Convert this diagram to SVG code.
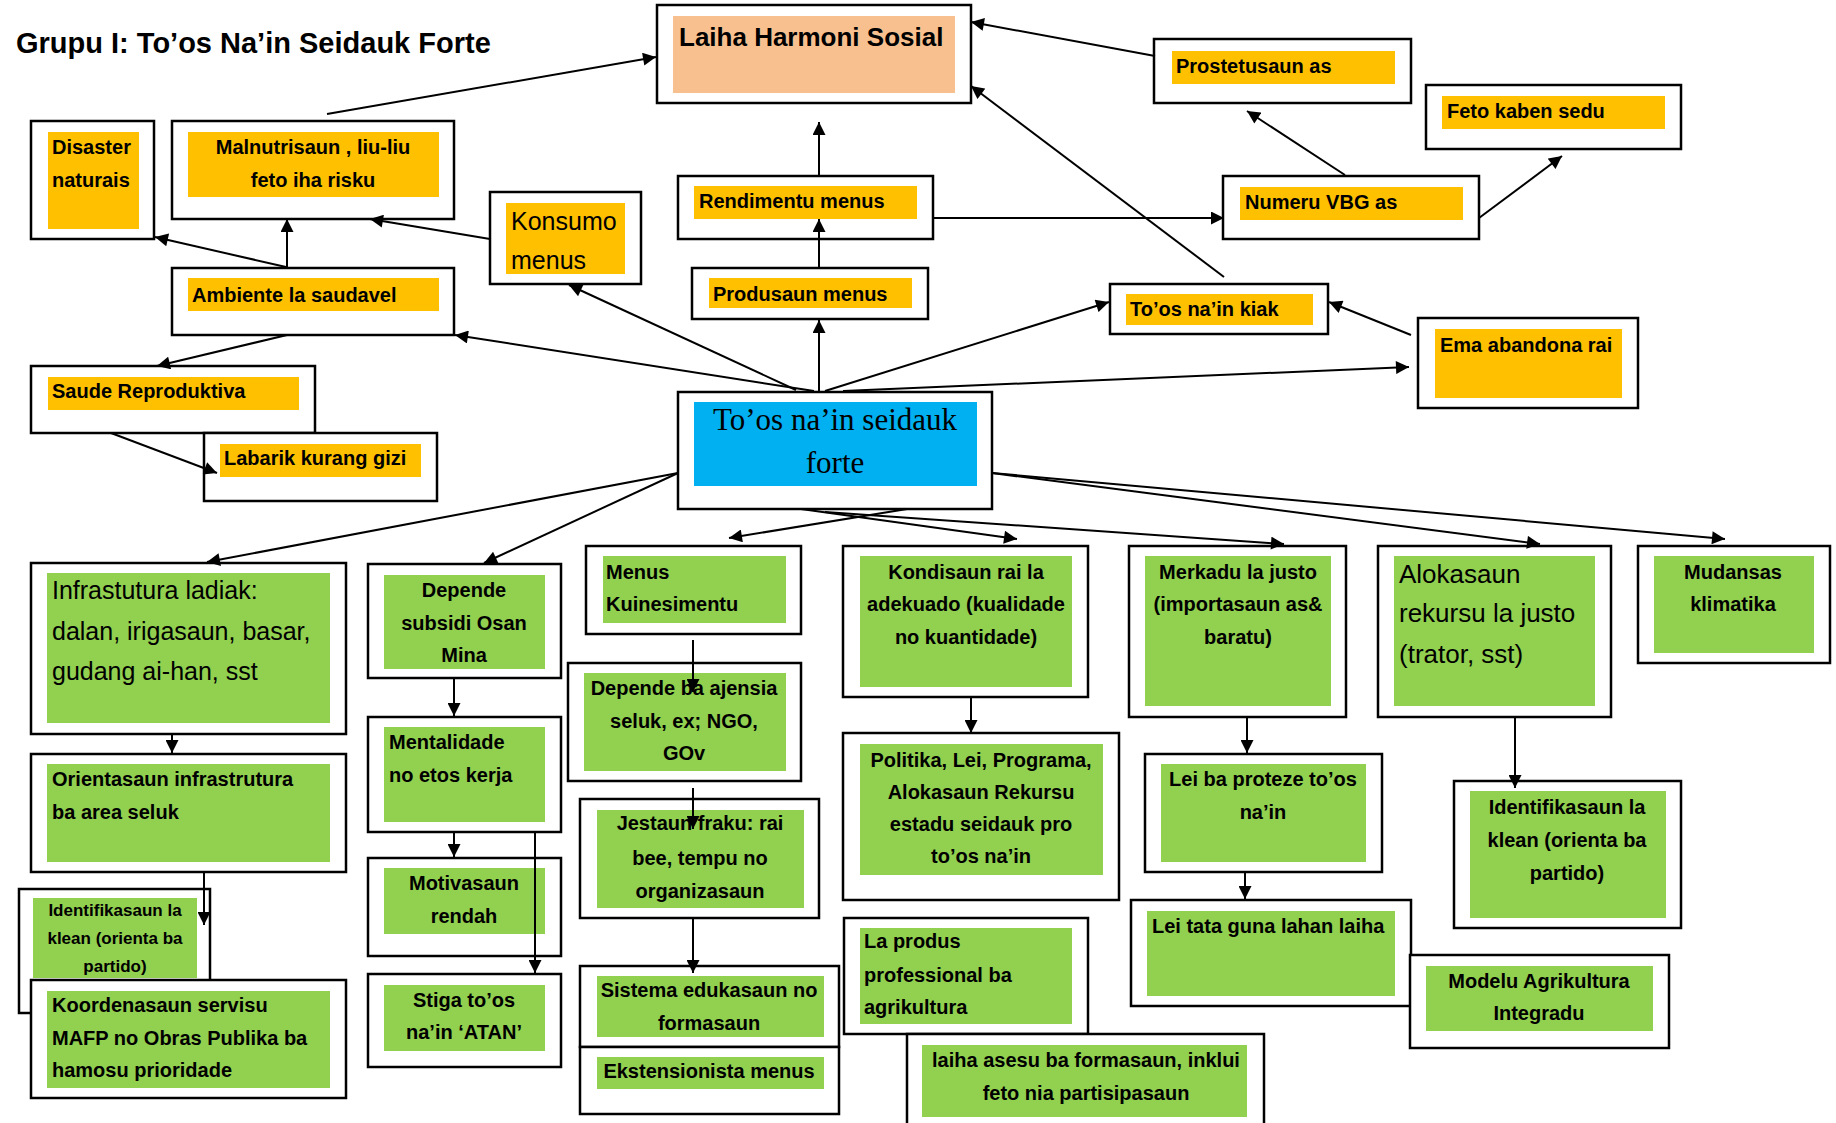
<svg xmlns="http://www.w3.org/2000/svg" width="1836" height="1123" viewBox="0 0 1836 1123">
<defs>
<style>
.o{fill:#fff;stroke:#000;stroke-width:2.5}
.y{fill:#FFC000}
.g{fill:#92D050}
.t{font-family:"Liberation Sans",Arial,sans-serif;font-weight:bold;font-size:20px;fill:#000}
.r{font-family:"Liberation Sans",Arial,sans-serif;font-size:25px;fill:#000}
.m{text-anchor:middle}
.c line{stroke:#000;stroke-width:2;marker-end:url(#ah)}
</style>
<marker id="ah" viewBox="0 0 10 10" refX="10" refY="5" markerWidth="14" markerHeight="13" markerUnits="userSpaceOnUse" orient="auto"><path d="M0,0 L10,5 L0,10 z" fill="#000"/></marker>
</defs>
<rect width="1836" height="1123" fill="#fff"/>
<text x="16" y="53" class="t" style="font-size:29px">Grupu I: To’os Na’in Seidauk Forte</text>

<g id="laiha-harmoni"><rect class="o" x="657" y="5" width="314" height="98"/><rect x="673" y="16" width="282" height="77" fill="#F8C08F"/><text class="t" x="679" y="46" style="font-size:26px">Laiha Harmoni Sosial</text></g>
<g id="prostetusaun"><rect class="o" x="1154" y="39" width="257" height="64"/><rect class="y" x="1172" y="51" width="223" height="33"/><text class="t" x="1176" y="73">Prostetusaun as</text></g>
<g id="feto-kaben"><rect class="o" x="1426" y="85" width="255" height="64"/><rect class="y" x="1442" y="96" width="223" height="33"/><text class="t" x="1447" y="118">Feto kaben sedu</text></g>
<g id="disaster"><rect class="o" x="31" y="121" width="123" height="118"/><rect class="y" x="48" y="132" width="91" height="97"/><text class="t" x="52" y="154">Disaster</text><text class="t" x="52" y="187">naturais</text></g>
<g id="malnutrisaun"><rect class="o" x="172" y="121" width="282" height="98"/><rect class="y" x="188" y="132" width="251" height="65"/><text class="t m" x="313" y="154">Malnutrisaun , liu-liu</text><text class="t m" x="313" y="187">feto iha risku</text></g>
<g id="rendimentu"><rect class="o" x="678" y="176" width="255" height="63"/><rect class="y" x="694" y="186" width="223" height="33"/><text class="t" x="699" y="208">Rendimentu menus</text></g>
<g id="numeru-vbg"><rect class="o" x="1223" y="176" width="256" height="63"/><rect class="y" x="1240" y="187" width="223" height="33"/><text class="t" x="1245" y="209">Numeru VBG as</text></g>
<g id="konsumo"><rect class="o" x="490" y="192" width="151" height="92"/><rect class="y" x="506" y="203" width="119" height="71"/><text class="r" x="511" y="230">Konsumo</text><text class="r" x="511" y="269">menus</text></g>
<g id="ambiente"><rect class="o" x="172" y="268" width="282" height="67"/><rect class="y" x="188" y="278" width="251" height="33"/><text class="t" x="192" y="302">Ambiente la saudavel</text></g>
<g id="produsaun"><rect class="o" x="692" y="268" width="236" height="51"/><rect class="y" x="709" y="278" width="203" height="30"/><text class="t" x="713" y="301">Produsaun menus</text></g>
<g id="toos-kiak"><rect class="o" x="1110" y="284" width="218" height="50"/><rect class="y" x="1126" y="294" width="187" height="31"/><text class="t" x="1130" y="316">To’os na’in kiak</text></g>
<g id="ema-abandona"><rect class="o" x="1418" y="318" width="220" height="90"/><rect class="y" x="1435" y="329" width="187" height="69"/><text class="t" x="1440" y="352">Ema abandona rai</text></g>
<g id="saude"><rect class="o" x="31" y="366" width="284" height="67"/><rect class="y" x="48" y="377" width="251" height="33"/><text class="t" x="52" y="398">Saude Reproduktiva</text></g>
<g id="labarik"><rect class="o" x="204" y="433" width="233" height="68"/><rect class="y" x="220" y="444" width="201" height="33"/><text class="t" x="224" y="465">Labarik kurang gizi</text></g>
<g id="center"><rect class="o" x="678" y="392" width="314" height="117"/><rect x="694" y="402" width="283" height="84" fill="#00B0F0"/><text x="835" y="430" text-anchor="middle" style="font-family:'Liberation Serif','Times New Roman',serif;font-size:31px">To’os na’in seidauk</text><text x="835" y="473" text-anchor="middle" style="font-family:'Liberation Serif','Times New Roman',serif;font-size:31px">forte</text></g>

<g id="infrastutura"><rect class="o" x="31" y="563" width="315" height="171"/><rect class="g" x="47" y="573" width="283" height="150"/><text class="r" x="52" y="599">Infrastutura ladiak:</text><text class="r" x="52" y="640">dalan, irigasaun, basar,</text><text class="r" x="52" y="680">gudang ai-han, sst</text></g>
<g id="depende-subsidi"><rect class="o" x="368" y="564" width="193" height="114"/><rect class="g" x="384" y="575" width="161" height="94"/><text class="t m" x="464" y="597">Depende</text><text class="t m" x="464" y="630">subsidi Osan</text><text class="t m" x="464" y="662">Mina</text></g>
<g id="menus-kuinesimentu"><rect class="o" x="586" y="546" width="215" height="88"/><rect class="g" x="603" y="556" width="183" height="67"/><text class="t" x="606" y="579">Menus</text><text class="t" x="606" y="611">Kuinesimentu</text></g>
<g id="depende-ajensia"><rect class="o" x="568" y="663" width="233" height="118"/><rect class="g" x="584" y="673" width="202" height="98"/><text class="t m" x="684" y="695">Depende ba ajensia</text><text class="t m" x="684" y="728">seluk, ex; NGO,</text><text class="t m" x="684" y="760">GOv</text></g>
<g id="kondisaun"><rect class="o" x="843" y="546" width="245" height="151"/><rect class="g" x="860" y="556" width="212" height="131"/><text class="t m" x="966" y="579">Kondisaun rai la</text><text class="t m" x="966" y="611">adekuado (kualidade</text><text class="t m" x="966" y="644">no kuantidade)</text></g>
<g id="merkadu"><rect class="o" x="1129" y="546" width="217" height="171"/><rect class="g" x="1145" y="556" width="186" height="150"/><text class="t m" x="1238" y="579">Merkadu la justo</text><text class="t m" x="1238" y="611">(importasaun as&amp;</text><text class="t m" x="1238" y="644">baratu)</text></g>
<g id="alokasaun"><rect class="o" x="1378" y="546" width="233" height="171"/><rect class="g" x="1394" y="556" width="201" height="150"/><text class="r" x="1399" y="583" style="font-size:26px">Alokasaun</text><text class="r" x="1399" y="622" style="font-size:26px">rekursu la justo</text><text class="r" x="1399" y="663" style="font-size:26px">(trator, sst)</text></g>
<g id="mudansas"><rect class="o" x="1638" y="546" width="192" height="117"/><rect class="g" x="1654" y="556" width="160" height="97"/><text class="t m" x="1733" y="579">Mudansas</text><text class="t m" x="1733" y="611">klimatika</text></g>
<g id="mentalidade"><rect class="o" x="368" y="717" width="193" height="115"/><rect class="g" x="384" y="727" width="161" height="95"/><text class="t" x="389" y="749">Mentalidade</text><text class="t" x="389" y="782">no etos kerja</text></g>
<g id="orientasaun"><rect class="o" x="31" y="754" width="315" height="118"/><rect class="g" x="47" y="764" width="283" height="98"/><text class="t" x="52" y="786">Orientasaun infrastrutura</text><text class="t" x="52" y="819">ba area seluk</text></g>
<g id="politika"><rect class="o" x="843" y="733" width="276" height="167"/><rect class="g" x="860" y="744" width="243" height="131"/><text class="t m" x="981" y="767">Politika, Lei, Programa,</text><text class="t m" x="981" y="799">Alokasaun Rekursu</text><text class="t m" x="981" y="831">estadu seidauk pro</text><text class="t m" x="981" y="863">to’os na’in</text></g>
<g id="lei-proteze"><rect class="o" x="1145" y="754" width="237" height="118"/><rect class="g" x="1161" y="764" width="205" height="98"/><text class="t m" x="1263" y="786">Lei ba proteze to’os</text><text class="t m" x="1263" y="819">na’in</text></g>
<g id="jestaun"><rect class="o" x="580" y="799" width="239" height="119"/><rect class="g" x="597" y="810" width="207" height="98"/><text class="t m" x="700" y="830">Jestaun fraku: rai</text><text class="t m" x="700" y="865">bee, tempu no</text><text class="t m" x="700" y="898">organizasaun</text></g>
<g id="identifikasaun-r"><rect class="o" x="1454" y="781" width="227" height="147"/><rect class="g" x="1470" y="791" width="196" height="127"/><text class="t m" x="1567" y="814">Identifikasaun la</text><text class="t m" x="1567" y="847">klean (orienta ba</text><text class="t m" x="1567" y="880">partido)</text></g>
<g id="motivasaun"><rect class="o" x="368" y="858" width="193" height="98"/><rect class="g" x="384" y="868" width="161" height="66"/><text class="t m" x="464" y="890">Motivasaun</text><text class="t m" x="464" y="923">rendah</text></g>
<g id="identifikasaun-l"><rect class="o" x="19" y="889" width="191" height="124"/><rect class="g" x="33" y="898" width="164" height="80"/><text class="t m" x="115" y="916" style="font-size:17px">Identifikasaun la</text><text class="t m" x="115" y="944" style="font-size:17px">klean (orienta ba</text><text class="t m" x="115" y="972" style="font-size:17px">partido)</text></g>
<g id="lei-tata"><rect class="o" x="1131" y="900" width="280" height="106"/><rect class="g" x="1147" y="911" width="248" height="85"/><text class="t" x="1152" y="933">Lei tata guna lahan laiha</text></g>
<g id="la-produs"><rect class="o" x="844" y="918" width="244" height="116"/><rect class="g" x="860" y="928" width="212" height="96"/><text class="t" x="864" y="948">La produs</text><text class="t" x="864" y="982">professional ba</text><text class="t" x="864" y="1014">agrikultura</text></g>
<g id="modelu"><rect class="o" x="1410" y="955" width="259" height="93"/><rect class="g" x="1426" y="966" width="227" height="65"/><text class="t m" x="1539" y="988">Modelu Agrikultura</text><text class="t m" x="1539" y="1020">Integradu</text></g>
<g id="sistema"><rect class="o" x="580" y="966" width="259" height="81"/><rect class="g" x="597" y="976" width="227" height="61"/><text class="t m" x="709" y="997">Sistema edukasaun no</text><text class="t m" x="709" y="1030">formasaun</text></g>
<g id="ekstensionista"><rect class="o" x="580" y="1047" width="259" height="67"/><rect class="g" x="597" y="1057" width="227" height="32"/><text class="t m" x="709" y="1078">Ekstensionista menus</text></g>
<g id="stiga"><rect class="o" x="368" y="974" width="193" height="93"/><rect class="g" x="384" y="985" width="161" height="66"/><text class="t m" x="464" y="1007">Stiga to’os</text><text class="t m" x="464" y="1039">na’in ‘ATAN’</text></g>
<g id="koordenasaun"><rect class="o" x="31" y="980" width="315" height="118"/><rect class="g" x="47" y="991" width="283" height="97"/><text class="t" x="52" y="1012">Koordenasaun servisu</text><text class="t" x="52" y="1045">MAFP no Obras Publika ba</text><text class="t" x="52" y="1077">hamosu prioridade</text></g>
<g id="laiha-asesu"><rect class="o" x="907" y="1034" width="357" height="100"/><rect class="g" x="922" y="1045" width="325" height="72"/><text class="t m" x="1086" y="1067">laiha asesu ba formasaun, inklui</text><text class="t m" x="1086" y="1100">feto nia partisipasaun</text></g>

<g id="connectors" class="c">
<line x1="327" y1="114" x2="656" y2="57"/>
<line x1="1155" y1="56" x2="971" y2="22"/>
<line x1="1224" y1="277" x2="971" y2="86"/>
<line x1="819" y1="176" x2="819" y2="122"/>
<line x1="819" y1="268" x2="819" y2="219"/>
<line x1="933" y1="218" x2="1224" y2="218"/>
<line x1="1345" y1="175" x2="1247" y2="111"/>
<line x1="1479" y1="218" x2="1562" y2="156"/>
<line x1="1411" y1="335" x2="1329" y2="302"/>
<line x1="843" y1="391" x2="1409" y2="367"/>
<line x1="825" y1="391" x2="1109" y2="302"/>
<line x1="819" y1="392" x2="819" y2="320"/>
<line x1="796" y1="390" x2="569" y2="285"/>
<line x1="814" y1="391" x2="455" y2="335"/>
<line x1="287" y1="267" x2="287" y2="219"/>
<line x1="286" y1="267" x2="155" y2="237"/>
<line x1="490" y1="239" x2="370" y2="219"/>
<line x1="287" y1="335" x2="157" y2="366"/>
<line x1="111" y1="433" x2="217" y2="473"/>
<line x1="678" y1="473" x2="207" y2="562"/>
<line x1="678" y1="473" x2="484" y2="563"/>
<line x1="907" y1="509" x2="729" y2="538"/>
<line x1="801" y1="509" x2="1017" y2="539"/>
<line x1="825" y1="512" x2="1284" y2="544"/>
<line x1="992" y1="473" x2="1540" y2="544"/>
<line x1="992" y1="473" x2="1725" y2="539"/>
<line x1="172" y1="734" x2="172" y2="753"/>
<line x1="204" y1="872" x2="204" y2="925"/>
<line x1="454" y1="678" x2="454" y2="716"/>
<line x1="454" y1="832" x2="454" y2="857"/>
<line x1="535" y1="832" x2="535" y2="973"/>
<line x1="693" y1="640" x2="693" y2="692"/>
<line x1="693" y1="788" x2="693" y2="829"/>
<line x1="693" y1="918" x2="693" y2="973"/>
<line x1="971" y1="697" x2="971" y2="733"/>
<line x1="1247" y1="717" x2="1247" y2="753"/>
<line x1="1245" y1="872" x2="1245" y2="899"/>
<line x1="1515" y1="717" x2="1515" y2="788"/>
</g>
</svg>
